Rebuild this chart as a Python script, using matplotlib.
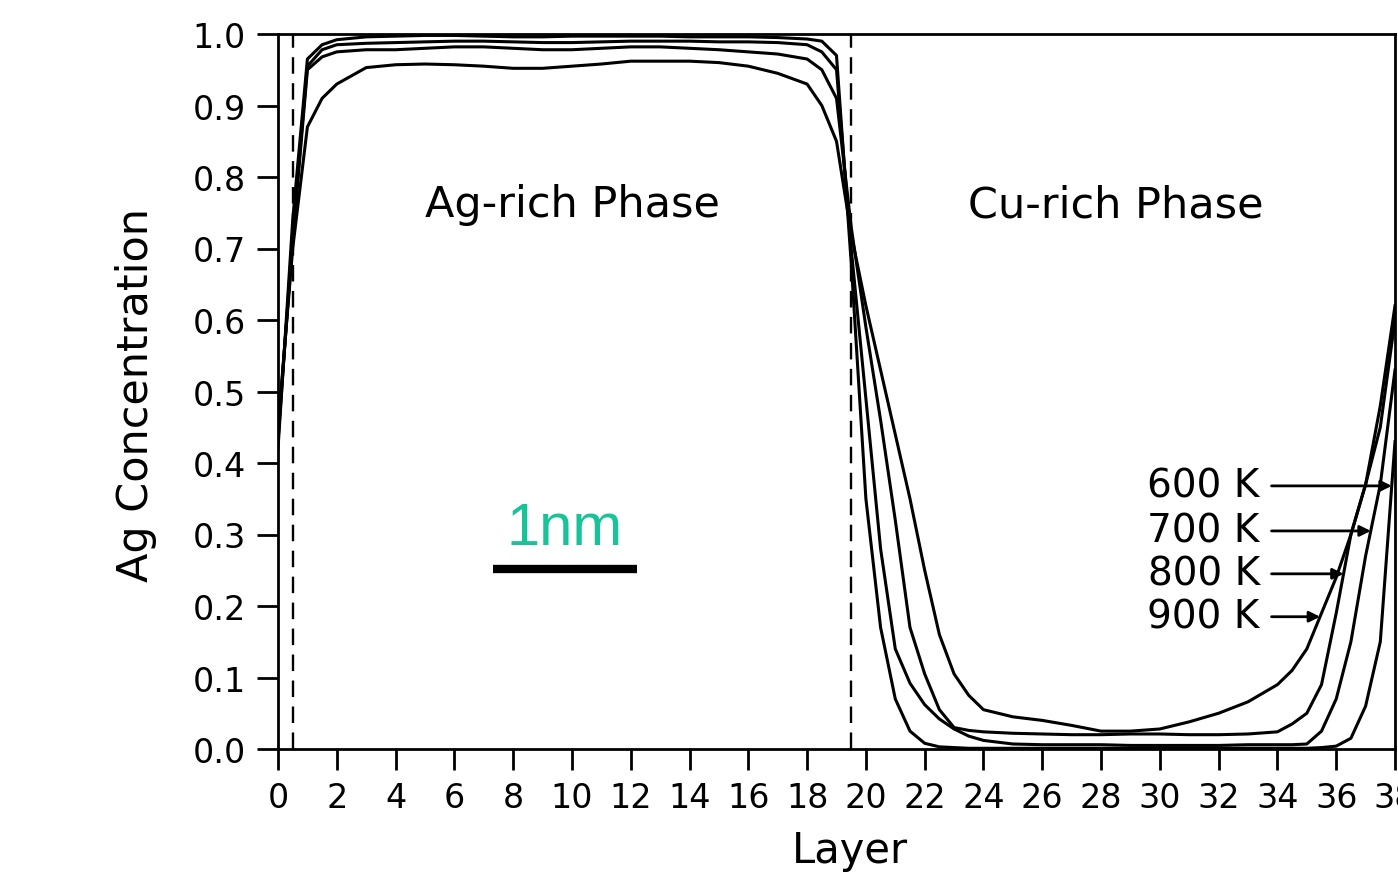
"""Ag concentration profiles across an Ag/Cu multilayer at four temperatures."""

import matplotlib as mpl
import matplotlib.pyplot as plt
import numpy as np

LAYER = [0, 0.5, 1, 1.5, 2, 3, 4, 5, 6, 7, 8, 9, 10, 11, 12, 13, 14, 15, 16, 17,
         18, 18.5, 19, 19.5, 20, 20.5, 21, 21.5, 22, 22.5, 23, 23.5,
         24, 25, 26, 27, 28, 29, 30, 31, 32, 33, 34,
         34.5, 35, 35.5, 36, 36.5, 37, 37.5, 38]

AG_600K = [0.42, 0.74, 0.965, 0.985, 0.992, 0.996, 0.997, 0.998, 0.998, 0.997,
           0.996, 0.996, 0.997, 0.997, 0.997, 0.997, 0.996, 0.996, 0.996, 0.995,
           0.993, 0.99, 0.97, 0.68, 0.35, 0.17, 0.07, 0.025, 0.008, 0.003, 0.002, 0.001,
           0.001, 0.001, 0.001, 0.001, 0.001, 0.001, 0.001, 0.001, 0.001, 0.001, 0.001,
           0.001, 0.001, 0.002, 0.004, 0.015, 0.06, 0.15, 0.43]
AG_700K = [0.43, 0.72, 0.955, 0.978, 0.985, 0.987, 0.988, 0.989, 0.99, 0.99,
           0.989, 0.988, 0.988, 0.989, 0.99, 0.99, 0.99, 0.989, 0.989, 0.988,
           0.985, 0.975, 0.95, 0.70, 0.49, 0.28, 0.14, 0.092, 0.062, 0.042, 0.028, 0.018,
           0.012, 0.007, 0.006, 0.006, 0.006, 0.005, 0.005, 0.005, 0.005, 0.006, 0.006,
           0.006, 0.007, 0.025, 0.07, 0.15, 0.27, 0.37, 0.53]
AG_800K = [0.44, 0.71, 0.95, 0.968, 0.975, 0.978, 0.978, 0.98, 0.982, 0.982,
           0.98, 0.978, 0.978, 0.98, 0.982, 0.982, 0.98, 0.978, 0.975, 0.972,
           0.965, 0.95, 0.91, 0.73, 0.59, 0.46, 0.32, 0.17, 0.105, 0.055, 0.03, 0.026,
           0.024, 0.022, 0.021, 0.02, 0.02, 0.021, 0.021, 0.02, 0.02, 0.021, 0.024,
           0.035, 0.05, 0.09, 0.19, 0.30, 0.37, 0.45, 0.60]
AG_900K = [0.45, 0.70, 0.87, 0.91, 0.93, 0.953, 0.957, 0.958, 0.957, 0.955,
           0.952, 0.952, 0.955, 0.958, 0.962, 0.962, 0.962, 0.96, 0.955, 0.945,
           0.93, 0.90, 0.85, 0.72, 0.62, 0.53, 0.44, 0.35, 0.25, 0.16, 0.105, 0.075,
           0.055, 0.045, 0.04, 0.033, 0.025, 0.025, 0.028, 0.038, 0.05, 0.066, 0.09,
           0.11, 0.14, 0.19, 0.24, 0.30, 0.37, 0.48, 0.62]

TEMPS = ["600 K", "700 K", "800 K", "900 K"]
PROFILES = [AG_600K, AG_700K, AG_800K, AG_900K]
LABEL_LEVELS = [0.368, 0.305, 0.245, 0.185]   # height of each label and its arrow

BOUNDARIES = [0.5, 19.5]                        # dashed phase boundaries
PHASES = ["Ag-rich Phase", "Cu-rich Phase"]
PHASE_CENTERS = [10.0, 28.5]

X_TICKS = list(range(0, 39, 2))
Y_TICKS = [round(0.1 * i, 1) for i in range(11)]

SCALE_BAR = (7.3, 12.2, 0.252)                   # x0, x1, y in data units

mpl.rcParams.update(
    {
        "font.family": "DejaVu Sans",
        "axes.linewidth": 2.0,
        "xtick.major.width": 2.0,
        "ytick.major.width": 2.0,
    }
)

fig = plt.figure(figsize=(13.98, 8.78), dpi=100)
ax = fig.add_axes([278 / 1398, 128 / 878, 1117 / 1398, 715 / 878])

for values in PROFILES:
    ax.plot(LAYER, values, color="black", linewidth=2.2, solid_joinstyle="round")

for xb in BOUNDARIES:
    ax.axvline(xb, color="black", linewidth=1.7, linestyle=(0, (7, 4)))

for name, xc in zip(PHASES, PHASE_CENTERS):
    ax.text(xc, 0.762, name, ha="center", va="center", fontsize=31)

# temperature labels with arrows to the rising edge of each curve
layer = np.asarray(LAYER)
for temp, values, level in zip(TEMPS, PROFILES, LABEL_LEVELS):
    values = np.asarray(values)
    rise = layer >= 30
    tip = np.interp(level, values[rise], layer[rise])
    ax.text(33.4, level, temp, ha="right", va="center", fontsize=28)
    ax.annotate(
        "",
        xy=(tip, level),
        xytext=(33.8, level),
        arrowprops=dict(arrowstyle="-|>", color="black", lw=2.0,
                        mutation_scale=16, shrinkA=0, shrinkB=0),
        annotation_clip=False,
    )

# scale bar
x0, x1, yb = SCALE_BAR
ax.plot([x0, x1], [yb, yb], color="black", linewidth=6, solid_capstyle="butt")
ax.text((x0 + x1) / 2, yb + 0.035, "1nm", ha="center", va="baseline",
        fontsize=43, color="#19c39a", family="Liberation Sans")

ax.set_xlim(0, 38)
ax.set_ylim(0, 1.0)
ax.set_xticks(X_TICKS)
ax.set_yticks(Y_TICKS)
ax.set_yticklabels([f"{v:.1f}" for v in Y_TICKS])
ax.tick_params(axis="both", direction="out", length=15, labelsize=24, pad=8)

ax.set_ylabel("Ag Concentration", fontsize=31)
ax.yaxis.set_label_coords(-0.108, 0.497)
ax.set_xlabel("Layer", fontsize=30)
ax.xaxis.set_label_coords(0.512, -0.112)

fig.savefig("out.png", dpi=100)
